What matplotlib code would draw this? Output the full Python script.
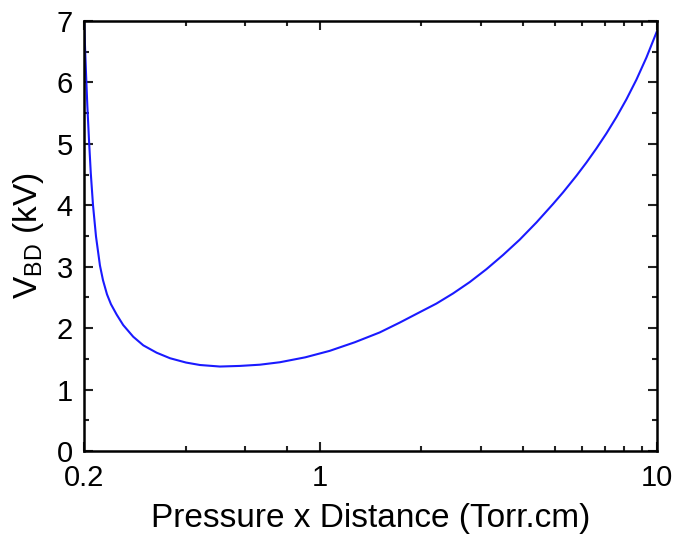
import matplotlib
matplotlib.use("Agg")
import matplotlib.pyplot as plt
from matplotlib.ticker import FixedLocator, FixedFormatter, NullFormatter

plt.rcParams['font.family'] = ['Liberation Sans', 'DejaVu Sans']
plt.rcParams['mathtext.fontset'] = 'custom'
plt.rcParams['mathtext.rm'] = 'Liberation Sans'
plt.rcParams['mathtext.it'] = 'Liberation Sans:italic'

# Breakdown voltage (kV) vs. pressure-distance product (Torr.cm)
pd_product = [0.2000, 0.2014, 0.2028, 0.2046, 0.2070, 0.2095, 0.2127, 0.2171,
              0.2230, 0.2277, 0.2340, 0.2404, 0.2500, 0.2614, 0.2799, 0.2998,
              0.3284, 0.3599, 0.4013, 0.4413, 0.5059, 0.5800, 0.6649, 0.762,
              0.906, 1.07, 1.270, 1.506, 1.726, 1.980, 2.218, 2.485, 2.785,
              3.121, 3.494, 3.916, 4.390, 4.916, 5.265, 5.768, 6.175, 6.612,
              7.080, 7.580, 8.116, 8.689, 9.303, 10.0]
v_bd = [7.05, 6.58, 6.14, 5.62, 5.05, 4.52, 4.00, 3.49,
        3.02, 2.78, 2.55, 2.39, 2.22, 2.05, 1.86, 1.72,
        1.60, 1.51, 1.44, 1.40, 1.375, 1.385, 1.405, 1.445,
        1.525, 1.63, 1.77, 1.93, 2.09, 2.26, 2.40, 2.565, 2.75,
        2.96, 3.19, 3.44, 3.72, 4.02, 4.21, 4.48, 4.695, 4.925,
        5.17, 5.435, 5.725, 6.045, 6.405, 6.835]

x_major = [0.2, 1, 10]
x_major_labels = ['0.2', '1', '10']
x_minor = [0.4, 0.6, 0.8, 2, 3, 4, 5, 6, 7, 8, 9]
y_major = [0, 1, 2, 3, 4, 5, 6, 7]
y_minor = [0.5, 1.5, 2.5, 3.5, 4.5, 5.5, 6.5]

fig = plt.figure(figsize=(6.76, 5.47), dpi=100)
ax = fig.add_axes([84/676, 96/547, 573/676, 430/547])

ax.plot(pd_product, v_bd, color='#1a1aff', lw=1.5,
        solid_joinstyle='round', solid_capstyle='round')

ax.set_xscale('log')
ax.set_xlim(0.2, 10)
ax.set_ylim(0, 7)

ax.xaxis.set_major_locator(FixedLocator(x_major))
ax.xaxis.set_major_formatter(FixedFormatter(x_major_labels))
ax.xaxis.set_minor_locator(FixedLocator(x_minor))
ax.xaxis.set_minor_formatter(NullFormatter())
ax.yaxis.set_major_locator(FixedLocator(y_major))
ax.yaxis.set_minor_locator(FixedLocator(y_minor))

for side in ax.spines.values():
    side.set_linewidth(1.8)

ax.tick_params(which='both', direction='in', top=True, right=True,
               labelsize=21, width=1.5, color='#222222')
ax.tick_params(which='major', length=6.5)
ax.tick_params(which='minor', length=3.5)
ax.tick_params(axis='x', which='major', pad=9)
ax.tick_params(axis='y', which='major', pad=8)

ax.set_xlabel('Pressure x Distance (Torr.cm)', fontsize=24, labelpad=8)
ax.set_ylabel('V$_{\\mathrm{BD}}$ (kV)', fontsize=24, labelpad=8)

fig.savefig('out.png', dpi=100, facecolor='white')
